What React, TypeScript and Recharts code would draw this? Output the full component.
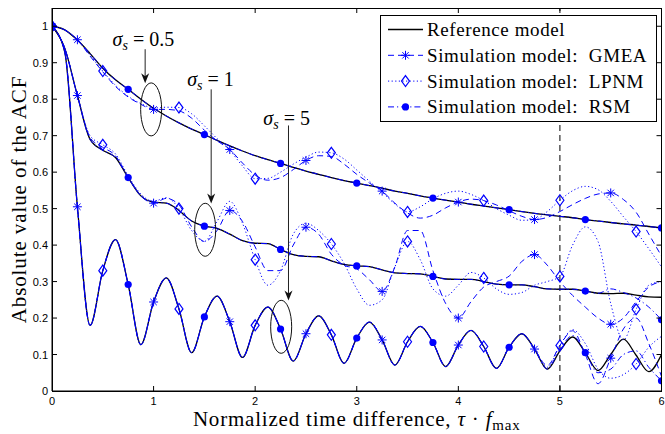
import { LineChart, Line, XAxis, YAxis, ReferenceLine, ReferenceDot } from "recharts";

const BLUE = "#0000ff";
const SERIF = "'Liberation Serif', 'Times New Roman', serif";
const SANS = "'Liberation Sans', Arial, sans-serif";

// normalized time difference tau * f_max
const TAU = [
  0, 0.125, 0.25, 0.375, 0.5, 0.625, 0.75, 0.875, 1, 1.125, 1.25, 1.375, 1.5, 1.625, 1.75, 1.875,
  2, 2.125, 2.25, 2.375, 2.5, 2.625, 2.75, 2.875, 3, 3.125, 3.25, 3.375, 3.5, 3.625, 3.75, 3.875,
  4, 4.125, 4.25, 4.375, 4.5, 4.625, 4.75, 4.875, 5, 5.125, 5.25, 5.375, 5.5, 5.625, 5.75, 5.875, 6,
];

// sigma_s = 0.5
const REF_05 = [
  1, 0.99, 0.962, 0.925, 0.885, 0.853, 0.827, 0.8, 0.775, 0.754, 0.735, 0.718, 0.703, 0.687, 0.672, 0.658,
  0.645, 0.634, 0.624, 0.613, 0.603, 0.594, 0.585, 0.577, 0.57, 0.563, 0.556, 0.548, 0.542, 0.535, 0.529, 0.523,
  0.518, 0.512, 0.507, 0.502, 0.497, 0.492, 0.487, 0.483, 0.479, 0.475, 0.47, 0.466, 0.462, 0.458, 0.455, 0.451, 0.447,
];
const GMEA_05 = [
  1, 0.99, 0.963, 0.918, 0.875, 0.835, 0.806, 0.786, 0.772, 0.772, 0.768, 0.748, 0.715, 0.686, 0.662, 0.625,
  0.592, 0.578, 0.585, 0.607, 0.632, 0.645, 0.643, 0.622, 0.594, 0.57, 0.548, 0.515, 0.488, 0.474, 0.482, 0.502,
  0.518, 0.526, 0.522, 0.51, 0.494, 0.479, 0.47, 0.476, 0.492, 0.511, 0.528, 0.54, 0.543, 0.525, 0.49, 0.43, 0.37,
];
const LPNM_05 = [
  1, 0.99, 0.962, 0.92, 0.877, 0.838, 0.808, 0.788, 0.776, 0.778, 0.777, 0.76, 0.727, 0.692, 0.66, 0.617,
  0.582, 0.583, 0.6, 0.622, 0.641, 0.655, 0.653, 0.636, 0.606, 0.575, 0.545, 0.513, 0.491, 0.505, 0.527, 0.542,
  0.548, 0.539, 0.522, 0.5, 0.482, 0.468, 0.47, 0.492, 0.523, 0.549, 0.561, 0.552, 0.52, 0.478, 0.437, 0.39, 0.34,
];
const RSM_05 = [
  1, 0.99, 0.962, 0.925, 0.885, 0.853, 0.827, 0.8, 0.775, 0.754, 0.735, 0.718, 0.703, 0.687, 0.672, 0.658,
  0.645, 0.634, 0.624, 0.613, 0.603, 0.594, 0.585, 0.577, 0.57, 0.563, 0.556, 0.548, 0.542, 0.535, 0.529, 0.523,
  0.518, 0.512, 0.507, 0.502, 0.497, 0.492, 0.487, 0.483, 0.479, 0.475, 0.47, 0.466, 0.462, 0.458, 0.455, 0.451, 0.447,
];

// sigma_s = 1
const REF_1 = [
  1, 0.94, 0.81, 0.69, 0.66, 0.64, 0.585, 0.535, 0.518, 0.515, 0.495, 0.466, 0.452, 0.446, 0.43, 0.412,
  0.405, 0.404, 0.388, 0.374, 0.369, 0.368, 0.357, 0.347, 0.343, 0.341, 0.332, 0.324, 0.322, 0.321, 0.314, 0.307,
  0.306, 0.306, 0.3, 0.293, 0.291, 0.291, 0.286, 0.28, 0.279, 0.279, 0.274, 0.268, 0.267, 0.268, 0.263, 0.258, 0.257,
];
const GMEA_1 = [
  1, 0.94, 0.81, 0.695, 0.668, 0.645, 0.585, 0.535, 0.515, 0.528, 0.51, 0.45, 0.41, 0.44, 0.495, 0.465,
  0.395, 0.33, 0.33, 0.4, 0.449, 0.43, 0.375, 0.345, 0.335, 0.305, 0.273, 0.34, 0.44, 0.44, 0.33, 0.24,
  0.2, 0.245, 0.285, 0.3, 0.315, 0.355, 0.374, 0.345, 0.3, 0.262, 0.23, 0.2, 0.183, 0.2, 0.245, 0.285, 0.3,
];
const LPNM_1 = [
  1, 0.94, 0.81, 0.7, 0.675, 0.65, 0.59, 0.54, 0.52, 0.53, 0.5, 0.44, 0.41, 0.465, 0.52, 0.46,
  0.36, 0.29, 0.33, 0.43, 0.46, 0.44, 0.403, 0.35, 0.28, 0.235, 0.25, 0.34, 0.41, 0.36, 0.28, 0.26,
  0.29, 0.325, 0.31, 0.28, 0.265, 0.27, 0.29, 0.3, 0.314, 0.4, 0.45, 0.41, 0.24, 0.14, 0.224, 0.29, 0.3,
];
const RSM_1 = [
  1, 0.94, 0.81, 0.69, 0.66, 0.64, 0.585, 0.535, 0.518, 0.515, 0.495, 0.466, 0.452, 0.446, 0.43, 0.412,
  0.405, 0.404, 0.388, 0.374, 0.369, 0.368, 0.357, 0.347, 0.343, 0.341, 0.332, 0.324, 0.322, 0.321, 0.314, 0.307,
  0.306, 0.306, 0.3, 0.293, 0.291, 0.291, 0.286, 0.28, 0.279, 0.279, 0.274, 0.268, 0.28, 0.27, 0.255, 0.23, 0.195,
];

// sigma_s = 5
const REF_5 = [
  1, 0.93, 0.505, 0.18, 0.33, 0.415, 0.292, 0.127, 0.244, 0.31, 0.225, 0.105, 0.203, 0.26, 0.19, 0.092,
  0.18, 0.23, 0.17, 0.082, 0.157, 0.206, 0.154, 0.076, 0.145, 0.189, 0.14, 0.071, 0.135, 0.177, 0.133, 0.067,
  0.126, 0.166, 0.122, 0.062, 0.12, 0.157, 0.115, 0.06, 0.11, 0.148, 0.105, 0.056, 0.1, 0.142, 0.098, 0.053, 0.1,
];
const GMEA_5 = [
  1, 0.93, 0.505, 0.18, 0.33, 0.415, 0.292, 0.127, 0.244, 0.31, 0.225, 0.105, 0.203, 0.26, 0.19, 0.092,
  0.18, 0.23, 0.17, 0.082, 0.157, 0.206, 0.154, 0.076, 0.145, 0.189, 0.14, 0.071, 0.135, 0.177, 0.133, 0.067,
  0.126, 0.166, 0.122, 0.062, 0.12, 0.157, 0.115, 0.07, 0.125, 0.165, 0.1, 0.02, 0.09, 0.17, 0.2, 0.13, 0.04,
];
const LPNM_5 = [
  1, 0.93, 0.505, 0.18, 0.33, 0.415, 0.292, 0.127, 0.244, 0.31, 0.225, 0.105, 0.203, 0.26, 0.19, 0.092,
  0.18, 0.23, 0.17, 0.082, 0.157, 0.206, 0.154, 0.076, 0.145, 0.189, 0.14, 0.071, 0.135, 0.177, 0.133, 0.067,
  0.126, 0.166, 0.122, 0.062, 0.12, 0.157, 0.115, 0.065, 0.125, 0.168, 0.13, 0.06, 0.035, 0.045, 0.074, 0.12, 0.15,
];
const RSM_5 = [
  1, 0.93, 0.505, 0.18, 0.33, 0.415, 0.292, 0.127, 0.244, 0.31, 0.225, 0.105, 0.203, 0.26, 0.19, 0.092,
  0.18, 0.23, 0.17, 0.082, 0.157, 0.206, 0.154, 0.076, 0.145, 0.189, 0.14, 0.071, 0.135, 0.177, 0.133, 0.067,
  0.126, 0.166, 0.122, 0.062, 0.12, 0.157, 0.115, 0.06, 0.115, 0.152, 0.105, 0.05, 0.06, 0.1, 0.11, 0.065, 0.028,
];

const X_TICKS = [0, 1, 2, 3, 4, 5, 6];
const Y_TICKS = [0, 0.1, 0.2, 0.3, 0.4, 0.5, 0.6, 0.7, 0.8, 0.9, 1];
const X_MAX = 6;
const Y_MAX = 1.05;

// where each simulation model puts its marker
const GMEA_MARKS = [0, 0.25, 1, 1.75, 2.5, 3.25, 4, 4.75, 5.5];
const LPNM_MARKS = [0, 0.5, 1.25, 2, 2.75, 3.5, 4.25, 5, 5.75];
const RSM_MARKS = [0, 0.75, 1.5, 2.25, 3, 3.75, 4.5, 5.25, 6];

// sigma annotations: label, arrow x, text y, arrow top, ellipse center
const SIGMAS = ["0.5", "1", "5"];
const SIGMA_TEXT_X = [0.9, 1.56, 2.31];
const SIGMA_TEXT_Y = [0.945, 0.835, 0.728];
const ARROW_X = [0.917, 1.567, 2.328];
const ARROW_TOP = [0.937, 0.827, 0.728];
const ELLIPSE_X = [0.976, 1.508, 2.256];
const ELLIPSE_Y = [0.772, 0.442, 0.176];

// chart box (pixels), follows from the margins and axis sizes below
const W = 665;
const H = 434;
const M_TOP = 8;
const M_RIGHT = 3.5;
const Y_AXIS_W = 52;
const X_AXIS_H = 43;
const PLOT_TOP = M_TOP;
const PLOT_RIGHT = W - M_RIGHT;

const rows = TAU.map((x, i) => ({
  x,
  ref05: REF_05[i], gmea05: GMEA_05[i], lpnm05: LPNM_05[i], rsm05: RSM_05[i],
  ref1: REF_1[i], gmea1: GMEA_1[i], lpnm1: LPNM_1[i], rsm1: RSM_1[i],
  ref5: REF_5[i], gmea5: GMEA_5[i], lpnm5: LPNM_5[i], rsm5: RSM_5[i],
}));

const STYLES: Record<string, { dash: string; marks: number[] }> = {
  gmea: { dash: "6 4", marks: GMEA_MARKS },
  lpnm: { dash: "1.2 2.4", marks: LPNM_MARKS },
  rsm: { dash: "6 3 1.2 3", marks: RSM_MARKS },
};

const Marker = ({ kind, cx, cy }: { kind: string; cx: number; cy: number }) => {
  if (kind === "gmea") {
    return (
      <g stroke={BLUE} strokeWidth={1}>
        <line x1={cx - 4.5} y1={cy} x2={cx + 4.5} y2={cy} />
        <line x1={cx} y1={cy - 4.5} x2={cx} y2={cy + 4.5} />
        <line x1={cx - 3.2} y1={cy - 3.2} x2={cx + 3.2} y2={cy + 3.2} />
        <line x1={cx - 3.2} y1={cy + 3.2} x2={cx + 3.2} y2={cy - 3.2} />
      </g>
    );
  }
  if (kind === "lpnm") {
    return (
      <path
        d={`M${cx},${cy - 5.5}L${cx + 4},${cy}L${cx},${cy + 5.5}L${cx - 4},${cy}Z`}
        fill="none"
        stroke={BLUE}
        strokeWidth={1.2}
      />
    );
  }
  return <circle cx={cx} cy={cy} r={3.6} fill={BLUE} />;
};

const makeDot = (kind: string) => (props: any) => {
  const { cx, cy, payload, index } = props;
  const key = `${kind}-${index}`;
  if (!payload || cx == null || cy == null || !STYLES[kind].marks.includes(payload.x)) {
    return <g key={key} />;
  }
  return (
    <g key={key}>
      <Marker kind={kind} cx={cx} cy={cy} />
    </g>
  );
};

// bottom tick: inward tick at the bottom and the mirrored one at the top
const BottomTick = ({ x, y, payload }: any) => {
  const inner = payload.value > 0 && payload.value < X_MAX;
  return (
    <g>
      {inner && <line x1={x} y1={y} x2={x} y2={y - 5} stroke="#000" />}
      {inner && <line x1={x} y1={PLOT_TOP} x2={x} y2={PLOT_TOP + 5} stroke="#000" />}
      <text x={x} y={y + 14} textAnchor="middle" fontSize={11} fontFamily={SANS} fill="#000">
        {payload.value}
      </text>
    </g>
  );
};

// left tick: inward tick on the left and the mirrored one on the right
const LeftTick = ({ x, y, payload }: any) => (
  <g>
    {payload.value > 0 && <line x1={x} y1={y} x2={x + 5} y2={y} stroke="#000" />}
    {payload.value > 0 && <line x1={PLOT_RIGHT} y1={y} x2={PLOT_RIGHT - 5} y2={y} stroke="#000" />}
    <text x={x - 4} y={y + 4} textAnchor="end" fontSize={11} fontFamily={SANS} fill="#000">
      {payload.value}
    </text>
  </g>
);

const XTitle = ({ viewBox }: any) => {
  const { x, y, width } = viewBox;
  return (
    <text x={x + width / 2} y={y + 35} textAnchor="middle" fontFamily={SERIF} fontSize={21} letterSpacing={0.8} fill="#000">
      Normalized time difference, <tspan fontStyle="italic">τ</tspan> · <tspan fontStyle="italic">f</tspan>
      <tspan fontSize={15} dy={4}>max</tspan>
    </text>
  );
};

const YTitle = ({ viewBox }: any) => {
  const { y, height } = viewBox;
  const cy = y + height / 2;
  return (
    <text
      x={26}
      y={cy}
      transform={`rotate(-90, 26, ${cy})`}
      textAnchor="middle"
      fontFamily={SERIF}
      fontSize={21}
      letterSpacing={0.9}
      fill="#000"
    >
      Absolute value of the ACF
    </text>
  );
};

const Arrow = ({ x1, y1, x2, y2 }: any) => (
  <g>
    <line x1={x1} y1={y1} x2={x2} y2={y2 - 4} stroke="#222" strokeWidth={1} />
    <path d={`M${x2},${y2}L${x2 - 4},${y2 - 10}L${x2},${y2 - 7}L${x2 + 4},${y2 - 10}Z`} fill="#111" />
  </g>
);

const LEGEND = [
  { label: "Reference model", kind: "ref" },
  { label: "Simulation model:  GMEA", kind: "gmea" },
  { label: "Simulation model:  LPNM", kind: "lpnm" },
  { label: "Simulation model:  RSM", kind: "rsm" },
];

const ChartLegend = () => (
  <div
    style={{
      position: "absolute",
      left: 380,
      top: 15,
      width: 275,
      height: 105,
      border: "1px solid #000",
      background: "#fff",
    }}
  >
    <svg width={275} height={105}>
      {LEGEND.map((item, i) => {
        const ly = 13.5 + i * 25.8;
        return (
          <g key={item.label}>
            <line
              x1={7}
              y1={ly}
              x2={42}
              y2={ly}
              stroke={item.kind === "ref" ? "#000" : BLUE}
              strokeWidth={item.kind === "ref" ? 1.3 : 1}
              strokeDasharray={item.kind === "ref" ? undefined : STYLES[item.kind].dash}
            />
            {item.kind !== "ref" && <Marker kind={item.kind} cx={24.5} cy={ly} />}
            <text x={46} y={ly + 6.5} fontFamily={SERIF} fontSize={19} letterSpacing={0.6} fill="#000" xmlSpace="preserve">
              {item.label}
            </text>
          </g>
        );
      })}
    </svg>
  </div>
);

const SIM_SERIES = [
  { key: "gmea05", kind: "gmea" }, { key: "lpnm05", kind: "lpnm" }, { key: "rsm05", kind: "rsm" },
  { key: "gmea1", kind: "gmea" }, { key: "lpnm1", kind: "lpnm" }, { key: "rsm1", kind: "rsm" },
  { key: "gmea5", kind: "gmea" }, { key: "lpnm5", kind: "lpnm" }, { key: "rsm5", kind: "rsm" },
];
const REF_SERIES = ["ref05", "ref1", "ref5"];

export default function App() {
  return (
    <div style={{ position: "fixed", left: 0, top: 0, width: W, height: H, background: "#fff" }}>
      <LineChart width={W} height={H} data={rows} margin={{ top: M_TOP, right: M_RIGHT, bottom: 0, left: 0 }}>
        <XAxis
          dataKey="x"
          type="number"
          domain={[0, X_MAX]}
          ticks={X_TICKS}
          interval={0}
          allowDataOverflow
          height={X_AXIS_H}
          tickSize={0}
          tickMargin={0}
          tickLine={false}
          axisLine={{ stroke: "#000" }}
          tick={<BottomTick />}
          label={<XTitle />}
        />
        <YAxis
          type="number"
          domain={[0, Y_MAX]}
          ticks={Y_TICKS}
          interval={0}
          allowDataOverflow
          width={Y_AXIS_W}
          tickSize={0}
          tickMargin={0}
          tickLine={false}
          axisLine={{ stroke: "#000" }}
          tick={<LeftTick />}
          label={<YTitle />}
        />

        <ReferenceLine x={5} stroke="#000" strokeDasharray="6 4" strokeWidth={1} />

        {REF_SERIES.map((key) => (
          <Line
            key={key}
            dataKey={key}
            type="monotone"
            stroke="#000"
            strokeWidth={1.3}
            dot={false}
            activeDot={false}
            isAnimationActive={false}
          />
        ))}
        {SIM_SERIES.map((s) => (
          <Line
            key={s.key}
            dataKey={s.key}
            type="monotone"
            stroke={BLUE}
            strokeWidth={1}
            strokeDasharray={STYLES[s.kind].dash}
            dot={makeDot(s.kind)}
            activeDot={false}
            isAnimationActive={false}
          />
        ))}

        {SIGMAS.map((s, i) => (
          <ReferenceLine
            key={`arrow-${s}`}
            segment={[
              { x: ARROW_X[i], y: ARROW_TOP[i] },
              { x: ARROW_X[i], y: ELLIPSE_Y[i] + 0.072 },
            ]}
            shape={<Arrow />}
          />
        ))}
        {SIGMAS.map((s, i) => (
          <ReferenceDot
            key={`ell-${s}`}
            x={ELLIPSE_X[i]}
            y={ELLIPSE_Y[i]}
            r={1}
            shape={(p: any) => (
              <ellipse cx={p.cx} cy={p.cy} rx={10.5} ry={26.5} fill="none" stroke="#111" strokeWidth={1} />
            )}
          />
        ))}
        {SIGMAS.map((s, i) => (
          <ReferenceDot
            key={`txt-${s}`}
            x={SIGMA_TEXT_X[i]}
            y={SIGMA_TEXT_Y[i]}
            r={1}
            shape={(p: any) => (
              <text x={p.cx} y={p.cy} textAnchor="middle" fontFamily={SERIF} fontSize={20} fill="#000">
                <tspan fontStyle="italic">σ</tspan>
                <tspan fontStyle="italic" fontSize={14} dy={4}>s</tspan>
                <tspan dy={-4}> = {s}</tspan>
              </text>
            )}
          />
        ))}
      </LineChart>
      {/* box round the plot area */}
      <div
        style={{
          position: "absolute",
          left: Y_AXIS_W - 0.5,
          top: PLOT_TOP - 0.5,
          width: PLOT_RIGHT - Y_AXIS_W + 1,
          height: H - X_AXIS_H - PLOT_TOP + 1,
          boxSizing: "border-box",
          border: "1px solid #000",
          pointerEvents: "none",
        }}
      />
      <ChartLegend />
    </div>
  );
}
